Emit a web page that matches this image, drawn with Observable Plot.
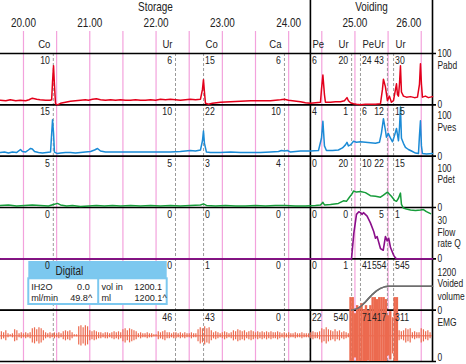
<!DOCTYPE html>
<html><head><meta charset="utf-8">
<script src="https://cdn.jsdelivr.net/npm/d3@7"></script>
<script src="https://cdn.jsdelivr.net/npm/@observablehq/plot@0.6"></script>
<style>
body{margin:0;background:#fff;}
#chart{width:466px;height:364px;}
</style></head><body><div id="chart"></div>
<script>
// ---- data (time in seconds of the study) ----
const phaseNames = ["Storage", "Voiding"];
const voidStart = 1459.7;
const minuteTimes = [1200, 1260, 1320, 1380, 1440, 1500, 1560];
const minuteLabels = ["20.00", "21.00", "22.00", "23.00", "24.00", "25.00", "26.00"];
const gridTimes = [1200,1230,1260,1290,1320,1350,1380,1410,1440,1470,1500,1530,1560];

const evTimes = [1227, 1337.6, 1363, 1436.2, 1459.7, 1497, 1505, 1529.4, 1535];
const evCodes = ["Co", "Ur", "Co", "Ca", "Pe", "Ur", "Pe", "Ur", "Ur"];
const evSide  = ["end","end","start","end","start","end","start","end","start"];
const evPabd = ["10","6","15","6","6","20","24","43","30"];
const evPves = ["15","10","22","10","4","1","6","12","15"];
const evPdet = ["5","5","3","4","0","20","10","22","15"];
const evFlow = ["0","0","0","0","0","0","","5","1"];
const evVol  = ["0","0","1","0","0","1","41","554","545"];
const evEmg  = ["","46","43","0","22","540","71","417","311"];

const channelNames = ["Pabd", "Pves", "Pdet", "Flow rate Q", "Voided volume", "EMG"];
const channelMax = [100, 100, 100, 30, 1200, 51];

const pabd = [[1179,9],[1184,8],[1188,10],[1193,8],[1197,9],[1202,8],[1205,10],[1208,13],[1212,11],[1215,10],[1220,9],[1224,9],[1225.5,10],[1226.3,45],[1227.2,76],[1228,40],[1229,2],[1230.8,0],[1233.5,3],[1238,5],[1242.5,7],[1247,8],[1251.6,9],[1256,10],[1258.8,9],[1262.5,11],[1266,12],[1269.7,10],[1274.2,9],[1278.8,10],[1283.3,9],[1287.8,10],[1292.3,9],[1296.9,9],[1301.4,10],[1305.9,9],[1310.4,9],[1315,10],[1319.5,9],[1324,11],[1328.5,10],[1333,11],[1337.6,10],[1342,9],[1346.6,10],[1351,11],[1355.7,10],[1360.2,11],[1362,30],[1362.9,49],[1363.8,25],[1364.7,3],[1367.4,1],[1371,3],[1378.3,5],[1387.4,6],[1396.4,7],[1405.5,8],[1414.5,8],[1423.6,8],[1432.6,10],[1436.2,11],[1439.8,9],[1443.5,8],[1447,7],[1450.7,6],[1455.2,4],[1459.7,3],[1464.3,4],[1468.8,5],[1469.7,30],[1471,58],[1472.4,20],[1473.3,5],[1477.9,5],[1482.4,6],[1486.9,6],[1490.5,8],[1492.8,14],[1494.1,8],[1496,4],[1498.7,2],[1501.4,1],[1505,0],[1509.5,1],[1514,1],[1518.6,1],[1523.1,2],[1524.9,30],[1525.8,50],[1527.6,35],[1529.4,8],[1531.2,17],[1533,5],[1534.9,8],[1536.7,30],[1537.6,41],[1538.5,20],[1539.4,17],[1540.3,40],[1541.2,76],[1542.1,25],[1543.9,17],[1546.6,15],[1550.3,16],[1553.9,14],[1556.6,15],[1558.4,40],[1559.3,80],[1560.2,40],[1561.1,15],[1563.8,17],[1566.5,14],[1570.2,16]];

const pves = [[1179,7],[1182.8,8],[1186.4,6],[1190,8],[1193.7,7],[1197.3,13],[1199,9],[1201.8,8],[1204.5,12],[1206.4,15],[1208,14],[1210,9],[1213.6,7],[1217.2,6],[1220.8,7],[1224.5,8],[1225.4,40],[1226.3,71],[1227.2,45],[1228,8],[1230.8,5],[1233.5,6],[1238,7],[1242.5,7],[1247,6],[1251.6,7],[1256,8],[1260.7,9],[1264.3,12],[1267,15],[1269.7,10],[1274.2,8],[1278.8,8],[1287.8,8],[1296.9,8],[1305.9,8],[1315,8],[1324,8],[1333,8],[1342,9],[1346.6,10],[1351,11],[1355.7,10],[1360.2,12],[1362,30],[1362.9,49],[1363.8,25],[1365.6,8],[1369.2,7],[1378.3,7],[1387.4,8],[1396.4,7],[1405.5,7],[1414.5,7],[1423.6,8],[1430.8,9],[1433.5,11],[1436.2,10],[1438.9,11],[1441.7,8],[1450.7,10],[1459.7,10],[1467,11],[1469.7,35],[1471,68],[1472.4,20],[1474.2,11],[1479.7,11],[1485,12],[1488.7,16],[1491.4,22],[1492.8,27],[1494.1,20],[1496,22],[1498.7,29],[1501.4,27],[1505,28],[1509.5,27],[1514,26],[1518.6,25],[1522.2,27],[1524,45],[1525.8,73],[1527.6,50],[1528.5,37],[1530.3,44],[1532.2,35],[1534,28],[1535.8,40],[1537.6,54],[1539.4,30],[1540.3,55],[1541.2,96],[1542.1,35],[1543.9,25],[1545.7,17],[1548.4,13],[1551.2,10],[1554.8,6],[1557.5,5],[1558.4,40],[1559.3,69],[1560.2,20],[1561.1,5],[1564.7,4],[1570.2,5]];

const pdet = [[1179,4],[1186.4,5],[1193.7,3],[1201,4],[1208,5],[1215,4],[1222.6,3],[1227.2,6],[1230.8,8],[1233.5,5],[1239,3],[1244.4,4],[1251.6,2],[1258.8,3],[1266,4],[1273.3,3],[1280.6,4],[1287.8,3],[1296.9,4],[1305.9,3],[1315,4],[1324,3],[1333,4],[1342,3],[1351,4],[1360.2,5],[1362.9,7],[1365.6,4],[1373.8,3],[1382.8,4],[1391.9,3],[1400.9,3],[1410,4],[1419,3],[1428,4],[1437,4],[1446,3],[1455.2,3],[1464.3,4],[1468.8,5],[1471,10],[1472.4,5],[1477.9,6],[1485,8],[1489.6,13],[1492.3,12],[1495,20],[1497.5,27],[1498.7,32],[1501.4,30],[1505,31],[1509.5,29],[1514,23],[1518.6,22],[1523.1,20],[1525.8,24],[1527.6,27],[1529.4,30],[1531.2,26],[1533,22],[1535.8,14],[1537.6,12],[1539.4,18],[1541.2,28],[1542.1,6],[1543.9,-1],[1546.6,-3],[1550.3,-5],[1554.8,-6],[1559.3,-5],[1562,-4],[1564.7,-8],[1568.4,-12]];

const flow = [[1179.2,0],[1496.9,0],[1499,15],[1501.4,26],[1503.5,27.5],[1505,27],[1506.5,26],[1507.7,27],[1511,25],[1514,21],[1517,16],[1518.6,12],[1520.1,13],[1523.1,6],[1525.6,5],[1527.6,13],[1529.2,10.5],[1530.6,12],[1532.2,6.6],[1535.1,2],[1536.7,0.5],[1537.6,0],[1570.2,0]];

const volume = [[1179.2,0],[1496.9,0],[1501.4,30],[1505,80],[1508.6,170],[1512.2,270],[1515.9,370],[1519.5,450],[1523.1,510],[1526.7,545],[1530.3,558],[1536.7,562],[1570.2,562]];

// EMG burst amplitude, one value every 2 s from 1180 s
const emgStart = 1180, emgStep = 2;
const emgAmp = [4,3,5, 2,1,2, 6,5, 2,3,2,3,2,3, 7,8,6,8,7,5, 3,2,3,2, 3,2,3,2, 4,5,4,5,3, 1,1,
 9,10,8,10,9, 5,4,5,4,3, 3,2,3,3,2,3, 4,3,4,3, 6,7,5,7,6,5,4, 2,3,2,2,3,2,2, 1,1,
 4,3,4,5,3, 3,2,3,3,2,3, 2,3,2,2,3,2,2, 6,8,7,9,7,8,5, 3,4,3,2,3,4,3,2,3,
 5,4,6,5,4,5,3,4,5,4,3, 4,3,4,3,4,3,4,3,3,4, 3,2,3,2,3, 2,2,3,2,2,3,2,2,2,
 3,4,3,3,4, 7,6,8,6, 5,4,6,4,5, 3,4,3,2, 38,38, 22,30, 28,32,26,30,25,30,
 38,38,36,38,38,38,36, 20,24,18, 38,38, 5,4,5, 7,6,7, 3,4,3,3, 7,6, 4,5,3];

const digitalTitle = "Digital";
const digitalRows = [["IH2O", "0.0", "vol in", "1200.1"], ["ml/min", "49.8^", "ml", "1200.1^"]];

const rightLabels = [
  ["100", "Pabd"], ["100", "Pves"], ["100", "Pdet"], ["30", "Flow", "rate Q"], ["1200", "Voided", "volume"], ["", "EMG"]
];

// ---- build ----
const tStart = 1179.2, tEnd = 1570.2;
const W = 466, H = 364, mTop = 53, mBottom = 3, mRight = 34;
const U = (H - mTop - mBottom) / 6;           // px per panel
const pxT = (tEnd - tStart) / (W - mRight);   // seconds per px
const base = i => 5 - i;                      // panel bottom in y units
const yv = (i, v) => base(i) + v / channelMax[i];

const FONT = "'Liberation Sans',Arial,sans-serif";
const colors = {pabd: "#e3001b", pves: "#1b8bd6", pdet: "#169c3a", flow: "#8a0f8a", vol: "#6e6e6e", emg: "#ec6a4f",
  grid: "#f3a2dc", ev: "#9a9a9a", box: "#7cc8ef"};

const toRows = (arr, i) => arr.map(([t, v]) => ({t, y: yv(i, v)}));

const evLabels = [];
const evArrays = [evPabd, evPves, evPdet, evFlow, evVol, evEmg];
evArrays.forEach((arr, p) => arr.forEach((s, k) => {
  // values crowded between two close events sit tight against their line
  if (s) evLabels.push({t: evTimes[k], side: evSide[k], text: s, y: 6 - p, tight: s.length > 2 && k === 7});
}));
const evCodeRows = evCodes.map((c, k) => ({t: evTimes[k], side: evSide[k], text: c}));

const emgRows = emgAmp.map((a, k) => ({t: emgStart + k * emgStep, a,
  y1: Math.max(0, 0.5 - a / channelMax[5]), y2: 0.5 + a / channelMax[5]}));

// right-side labels with pixel offsets below each panel line
const rOff = [[0, 12], [11, 23], [12, 23], [13, 25, 36], [13.5, 25, 37.5], [0, 12]];
const rightRows = [];
rightLabels.forEach((labs, p) => labs.forEach((s, j) => {
  if (s) rightRows.push({text: s, y: 6 - p - rOff[p][j] / U});
}));
[5, 4, 3, 2, 1].forEach(l => rightRows.push({text: "0", y: l}));
rightRows.push({text: "0", y: 0 + 3.5 / U});

// digital box geometry (y units / seconds)
const bx1 = tStart + 28.3 * pxT, bxm = tStart + 97.7 * pxT, bx2 = tStart + 166.7 * pxT;
const by = py => (H - mBottom - py) / U;
const boxTop = by(261), boxMid = by(278.3), boxBot = by(304);
const rowY = (d, i) => by(286.2 + i * 11.4);
const TXT = "#222";

const chart = Plot.plot({
  width: W, height: H,
  marginTop: mTop, marginBottom: mBottom, marginLeft: 0, marginRight: mRight,
  x: {domain: [tStart, tEnd], axis: null},
  y: {domain: [0, 6], axis: null},
  style: {fontFamily: FONT, fontSize: "11px", background: "#fff", overflow: "visible"},
  marks: [
    Plot.ruleX(gridTimes, {y1: 0, y2: 6 + 22 / U, stroke: colors.grid, strokeWidth: 1.2}),
    Plot.ruleX(evTimes, {y1: 0, y2: 6, stroke: colors.ev, strokeWidth: 1, strokeDasharray: "3,2"}),
    Plot.line(toRows(volume, 4), {x: "t", y: "y", stroke: colors.vol, strokeWidth: 1.5}),
    Plot.ruleY([0, 1, 2, 3, 4, 5, 6], {x1: tStart, x2: tEnd + 4 * pxT, stroke: "#000", strokeWidth: 1.6}),
    Plot.ruleX([voidStart, tEnd], {y1: 0, y2: 6 + mTop / U, stroke: "#000", strokeWidth: 1.6}),
    Plot.ruleY([0.5], {x1: tStart, x2: tEnd, stroke: colors.emg, strokeWidth: 1}),
    Plot.ruleX(emgRows, {x: "t", y1: "y1", y2: "y2", stroke: colors.emg, strokeWidth: d => d.a >= 20 ? 2.4 : 1.2}),
    Plot.line(toRows(volume, 4).filter(d => d.t >= 1496), {x: "t", y: "y", stroke: colors.vol, strokeWidth: 1.5}),
    Plot.line(toRows(pabd, 0), {x: "t", y: "y", stroke: colors.pabd, strokeWidth: 1.5}),
    Plot.line(toRows(pves, 1), {x: "t", y: "y", stroke: colors.pves, strokeWidth: 1.5}),
    Plot.line(toRows(pdet, 2), {x: "t", y: "y", stroke: colors.pdet, strokeWidth: 1.5}),
    Plot.line(toRows(flow, 3), {x: "t", y: "y", stroke: colors.flow, strokeWidth: 1.6}),
    // digital box
    Plot.rect([0], {x1: bx1, x2: bx2, y1: boxMid, y2: boxTop, fill: colors.box}),
    Plot.rect([0], {x1: bx1, x2: bx2, y1: boxBot, y2: boxMid, fill: "#fff", stroke: colors.box, strokeWidth: 2}),
    Plot.ruleX([bxm], {y1: boxBot, y2: boxMid, stroke: colors.box, strokeWidth: 2}),
    Plot.text([digitalTitle], {x: tStart + 55 * pxT, y: by(271), text: d => d, textAnchor: "start", fontSize: 12, fill: TXT}),
    Plot.text(digitalRows, {x: tStart + 30.7 * pxT, y: rowY, text: d => d[0], textAnchor: "start", fontSize: 11, fill: TXT, className: "dig"}),
    Plot.text(digitalRows, {x: (d, i) => tStart + (89.3 + i * 2.4) * pxT, y: rowY, text: d => d[1], textAnchor: "end", fontSize: 11, fill: TXT, className: "dig"}),
    Plot.text(digitalRows, {x: tStart + 101 * pxT, y: rowY, text: d => d[2], textAnchor: "start", fontSize: 11, fill: TXT, className: "dig"}),
    Plot.text(digitalRows, {x: (d, i) => tStart + (161.7 + i * 4.5) * pxT, y: rowY, text: d => d[3], textAnchor: "end", fontSize: 11, fill: TXT, className: "dig"}),
    // event labels
    Plot.text(evLabels.filter(d => d.side === "end" && !d.tight), {x: "t", y: "y", text: "text", textAnchor: "end", dx: -3.5, dy: 7, fontSize: 10.5, fill: TXT}),
    Plot.text(evLabels.filter(d => d.side === "end" && d.tight), {x: "t", y: "y", text: "text", textAnchor: "end", dx: -1, dy: 7, fontSize: 10.5, fill: TXT}),
    Plot.text(evLabels.filter(d => d.side === "start"), {x: "t", y: "y", text: "text", textAnchor: "start", dx: 1.5, dy: 7, fontSize: 10.5, fill: TXT}),
    Plot.text(evCodeRows.filter(d => d.side === "end"), {x: "t", y: 6, text: "text", textAnchor: "end", dx: -3, dy: -9, fontSize: 11.5, fill: TXT}),
    Plot.text(evCodeRows.filter(d => d.side === "start"), {x: "t", y: 6, text: "text", textAnchor: "start", dx: 2, dy: -9, fontSize: 11.5, fill: TXT}),
    // time labels
    Plot.text(minuteTimes.slice(0, -1), {x: d => d, y: 6, text: (d, i) => minuteLabels[i], dy: -30, fontSize: 12, fill: TXT}),
    Plot.text(minuteTimes.slice(-1), {x: d => d, y: 6, text: () => minuteLabels[minuteLabels.length - 1], textAnchor: "end", dy: -30, fontSize: 12, fill: TXT}),
    Plot.text(phaseNames, {x: (d, i) => i === 0 ? (tStart + voidStart) / 2 : (voidStart + tEnd) / 2, y: 6, text: d => d, dy: -46, fontSize: 12, fill: TXT}),
    // right labels
    Plot.text(rightRows, {x: tEnd, y: "y", text: "text", textAnchor: "start", dx: 5, fontSize: 10.5, fill: TXT, className: "rlab"})
  ]
});
document.getElementById("chart").appendChild(chart);
// condense the type horizontally (the original uses a narrow face)
chart.querySelectorAll("text").forEach(t => {
  const k = t.closest(".rlab") ? 0.8 : 0.83;
  const v = t.closest(".dig") ? 0.88 : 1;
  const tr = t.getAttribute("transform");
  if (tr) t.setAttribute("transform", tr + ` scale(${k},${v})`);
  else {
    const x = +t.getAttribute("x") || 0, y = +t.getAttribute("y") || 0;
    t.setAttribute("transform", `translate(${x},${y}) scale(${k},${v}) translate(${-x},${-y})`);
  }
});
</script></body></html>
